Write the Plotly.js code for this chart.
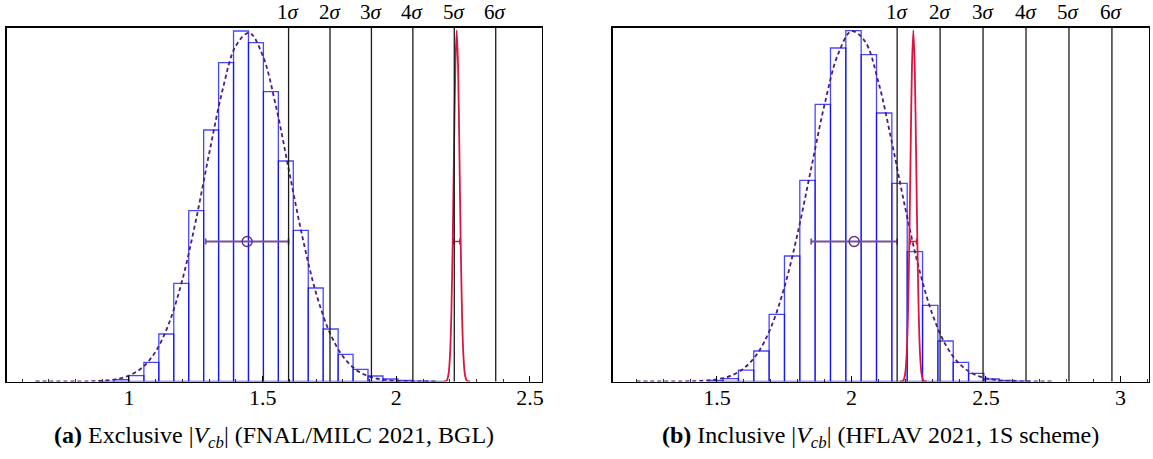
<!DOCTYPE html>
<html>
<head>
<meta charset="utf-8">
<script src="https://cdn.plot.ly/plotly-3.0.1.min.js"></script>
<style>html,body{margin:0;padding:0;background:#fff;}#chart{width:1153px;height:459px;}</style>
</head>
<body>
<div id="chart"></div>
<script>
// ---------- Panel (a): Exclusive |Vcb| ----------
var binStartA = 0.888;
var binWidthA = 0.0559;
var countsA = [0.2, 1.8, 5.8, 19.2, 47.5, 98.2, 170.8, 251.5, 318.8, 350.5, 338.8, 289.8, 220.5, 151.2, 93.5, 52.5, 27.2, 12.2, 5.5, 2.5, 1.0, 0.4, 0.2];
var curveXA = [0.65, 0.70, 0.75, 0.80, 0.85, 0.90, 0.95, 1.00, 1.05, 1.10, 1.15, 1.20, 1.25, 1.30, 1.35, 1.40, 1.45, 1.50, 1.55, 1.60, 1.65, 1.70, 1.75, 1.80, 1.85, 1.90, 1.95, 2.00, 2.05, 2.10, 2.15];
var curveYA = [0.0, 0.0, 0.02, 0.06, 0.23, 0.75, 2.2, 5.9, 14.0, 30.1, 58.5, 102.1, 160.8, 228.0, 291.5, 335.8, 348.6, 326.2, 275.0, 208.9, 143.1, 88.3, 49.5, 25.2, 11.6, 4.9, 1.9, 0.6, 0.2, 0.05, 0.0];
var meanA = 1.442, sigmaA = 0.155;
var redXA = [2.176, 2.186, 2.191, 2.196, 2.201, 2.206, 2.211, 2.216, 2.221, 2.226, 2.231, 2.236, 2.241, 2.246, 2.251, 2.256, 2.261, 2.266, 2.276];
var redYA = [0.0, 0.5, 2.2, 8.5, 26.5, 67.2, 138.5, 232.2, 316.6, 351.0, 316.6, 232.2, 138.5, 67.2, 26.5, 8.5, 2.2, 0.5, 0.0];
var redMeanA = 2.226, redSigmaA = 0.012;

// ---------- Panel (b): Inclusive |Vcb| ----------
var binStartB = 1.4657;
var binWidthB = 0.05703;
var countsB = [1.0, 2.8, 11.3, 30.5, 67.2, 125.5, 201.2, 277.2, 333.5, 350.8, 326.8, 268.5, 198.2, 129.8, 76.2, 40.5, 19.2, 8.2, 2.5, 1.0, 0.4];
var curveXB = [1.20, 1.25, 1.30, 1.35, 1.40, 1.45, 1.50, 1.55, 1.60, 1.65, 1.70, 1.75, 1.80, 1.85, 1.90, 1.95, 2.00, 2.05, 2.10, 2.15, 2.20, 2.25, 2.30, 2.35, 2.40, 2.45, 2.50, 2.55, 2.60, 2.65, 2.70, 2.75];
var curveYB = [0.0, 0.0, 0.02, 0.07, 0.25, 0.77, 2.2, 5.6, 13.2, 27.9, 53.7, 93.7, 148.3, 212.9, 277.1, 327.2, 350.3, 340.2, 299.6, 239.4, 173.4, 114.0, 67.9, 36.7, 18.0, 8.0, 3.2, 1.2, 0.4, 0.1, 0.03, 0.0];
var meanB = 2.010, sigmaB = 0.1597;
var redXB = [2.180, 2.190, 2.195, 2.200, 2.205, 2.210, 2.215, 2.220, 2.225, 2.230, 2.235, 2.240, 2.245, 2.250, 2.255, 2.260, 2.265, 2.270, 2.280];
var redYB = [0.0, 0.5, 2.2, 8.5, 26.5, 67.2, 138.5, 232.2, 316.6, 351.0, 316.6, 232.2, 138.5, 67.2, 26.5, 8.5, 2.2, 0.5, 0.0];
var redMeanB = 2.230, redSigmaB = 0.012;

var errorBarHeight = 140;
var sigmaLabels = ["1", "2", "3", "4", "5", "6"];
var tickValsA = [1, 1.5, 2, 2.5];
var tickTextA = ["1", "1.5", "2", "2.5"];
var tickValsB = [1.5, 2, 2.5, 3];
var tickTextB = ["1.5", "2", "2.5", "3"];
var captionA = "<b>(a)</b> Exclusive |<i>V</i><sub><i>cb</i></sub>| (FNAL/MILC 2021, BGL)";
var captionB = "<b>(b)</b> Inclusive |<i>V</i><sub><i>cb</i></sub>| (HFLAV 2021, 1S scheme)";

// ---------- build ----------
var BLUE_LINE = 'rgba(0,0,255,0.72)';
var DASH = '#4b1a86';
var ERR = '#74529a';
var RED = '#dc1440';
var SERIF = 'Liberation Serif, Times New Roman, Times, serif';

function centers(start, w, n) {
  var c = [];
  for (var i = 0; i < n; i++) c.push(start + w * (i + 0.5));
  return c;
}

function panelTraces(xa, ya, start, w, counts, cx, cy, mean, sig, rx, ry, rmean, rsig) {
  return [
    {type: 'bar', x: centers(start, w, counts.length), y: counts, width: w,
     xaxis: xa, yaxis: ya, marker: {color: 'rgba(0,0,0,0)', line: {color: BLUE_LINE, width: 1.3}},
     hoverinfo: 'skip', showlegend: false},
    {type: 'scatter', mode: 'lines', x: cx, y: cy, xaxis: xa, yaxis: ya,
     line: {color: DASH, width: 1.8, dash: '4px,3px', shape: 'spline', smoothing: 1},
     hoverinfo: 'skip', showlegend: false},
    {type: 'scatter', mode: 'markers', x: [mean], y: [errorBarHeight], xaxis: xa, yaxis: ya,
     marker: {symbol: 'circle-open', size: 10, color: '#5a2a8a', line: {width: 1.3}},
     error_x: {type: 'constant', value: sig, color: ERR, thickness: 1.8, width: 3},
     hoverinfo: 'skip', showlegend: false},
    {type: 'scatter', mode: 'lines', x: rx, y: ry, xaxis: xa, yaxis: ya,
     line: {color: RED, width: 1.8, shape: 'spline', smoothing: 0.8},
     hoverinfo: 'skip', showlegend: false},
    {type: 'scatter', mode: 'markers', x: [rmean], y: [errorBarHeight], xaxis: xa, yaxis: ya,
     marker: {size: 1, color: RED},
     error_x: {type: 'constant', value: rsig, color: RED, thickness: 1.6, width: 3},
     hoverinfo: 'skip', showlegend: false}
  ];
}

var data = [].concat(
  panelTraces('x', 'y', binStartA, binWidthA, countsA, curveXA, curveYA, meanA, sigmaA, redXA, redYA, redMeanA, redSigmaA),
  panelTraces('x2', 'y2', binStartB, binWidthB, countsB, curveXB, curveYB, meanB, sigmaB, redXB, redYB, redMeanB, redSigmaB)
);

var W = 1153, H = 459;
var yDom = [1 - 381.5 / H, 1 - 27.5 / H];
var domA = [6.7 / W, 541.7 / W];
var domB = [612.6 / W, 1149 / W];

function xaxisDef(dom, range, tv, tt) {
  return {domain: dom, range: range, showline: true, mirror: true, linecolor: '#000', linewidth: 1.3,
    ticks: 'inside', ticklen: 6, tickwidth: 1, tickcolor: '#000', ticklabelstandoff: -4,
    tickvals: tv, ticktext: tt, tickfont: {family: SERIF, size: 22, color: '#000'},
    minor: {ticks: 'inside', ticklen: 3, tickwidth: 1, tickcolor: '#333', dtick: 0.1, tick0: 0, showgrid: false},
    showgrid: false, zeroline: false, fixedrange: true};
}
function yaxisDef(dom, anchor) {
  return {domain: dom, range: [0, 354], anchor: anchor, showline: true, mirror: true, linecolor: '#000', linewidth: 1.3,
    ticks: '', showticklabels: false, showgrid: false, zeroline: false, fixedrange: true};
}

var shapes = [], annotations = [];
function addSigma(xref, yref, mean, sig) {
  for (var k = 1; k <= sigmaLabels.length; k++) {
    var xv = mean + k * sig;
    shapes.push({type: 'line', xref: xref, yref: yref + ' domain', x0: xv, x1: xv, y0: 0, y1: 1,
      line: {color: '#1a1a1a', width: 1.3}, layer: 'above'});
    annotations.push({xref: xref, yref: 'paper', x: xv, y: 1 - 12 / H, yanchor: 'middle', xanchor: 'center',
      text: sigmaLabels[k - 1] + '<i>σ</i>', showarrow: false, font: {family: SERIF, size: 21, color: '#000'}});
  }
}
addSigma('x', 'y', meanA, sigmaA);
addSigma('x2', 'y2', meanB, sigmaB);

annotations.push({xref: 'paper', yref: 'paper', x: (domA[0] + domA[1]) / 2, y: 1 - 437 / H, xanchor: 'center', yanchor: 'middle',
  text: captionA, showarrow: false, font: {family: SERIF, size: 24, color: '#000'}});
annotations.push({xref: 'paper', yref: 'paper', x: (domB[0] + domB[1]) / 2, y: 1 - 437 / H, xanchor: 'center', yanchor: 'middle',
  text: captionB, showarrow: false, font: {family: SERIF, size: 24, color: '#000'}});

var layout = {
  width: W, height: H,
  margin: {l: 0, r: 0, t: 0, b: 0, autoexpand: false},
  paper_bgcolor: '#fff', plot_bgcolor: '#fff',
  font: {family: SERIF},
  showlegend: false, bargap: 0,
  xaxis: xaxisDef(domA, [0.5425, 2.544], tickValsA, tickTextA),
  yaxis: yaxisDef(yDom, 'x'),
  xaxis2: xaxisDef(domB, [1.112, 3.106], tickValsB, tickTextB),
  yaxis2: yaxisDef(yDom, 'x2'),
  shapes: shapes,
  annotations: annotations
};
layout.xaxis.anchor = 'y';
layout.xaxis2.anchor = 'y2';

Plotly.newPlot('chart', data, layout, {displayModeBar: false, staticPlot: true});
</script>
</body>
</html>
